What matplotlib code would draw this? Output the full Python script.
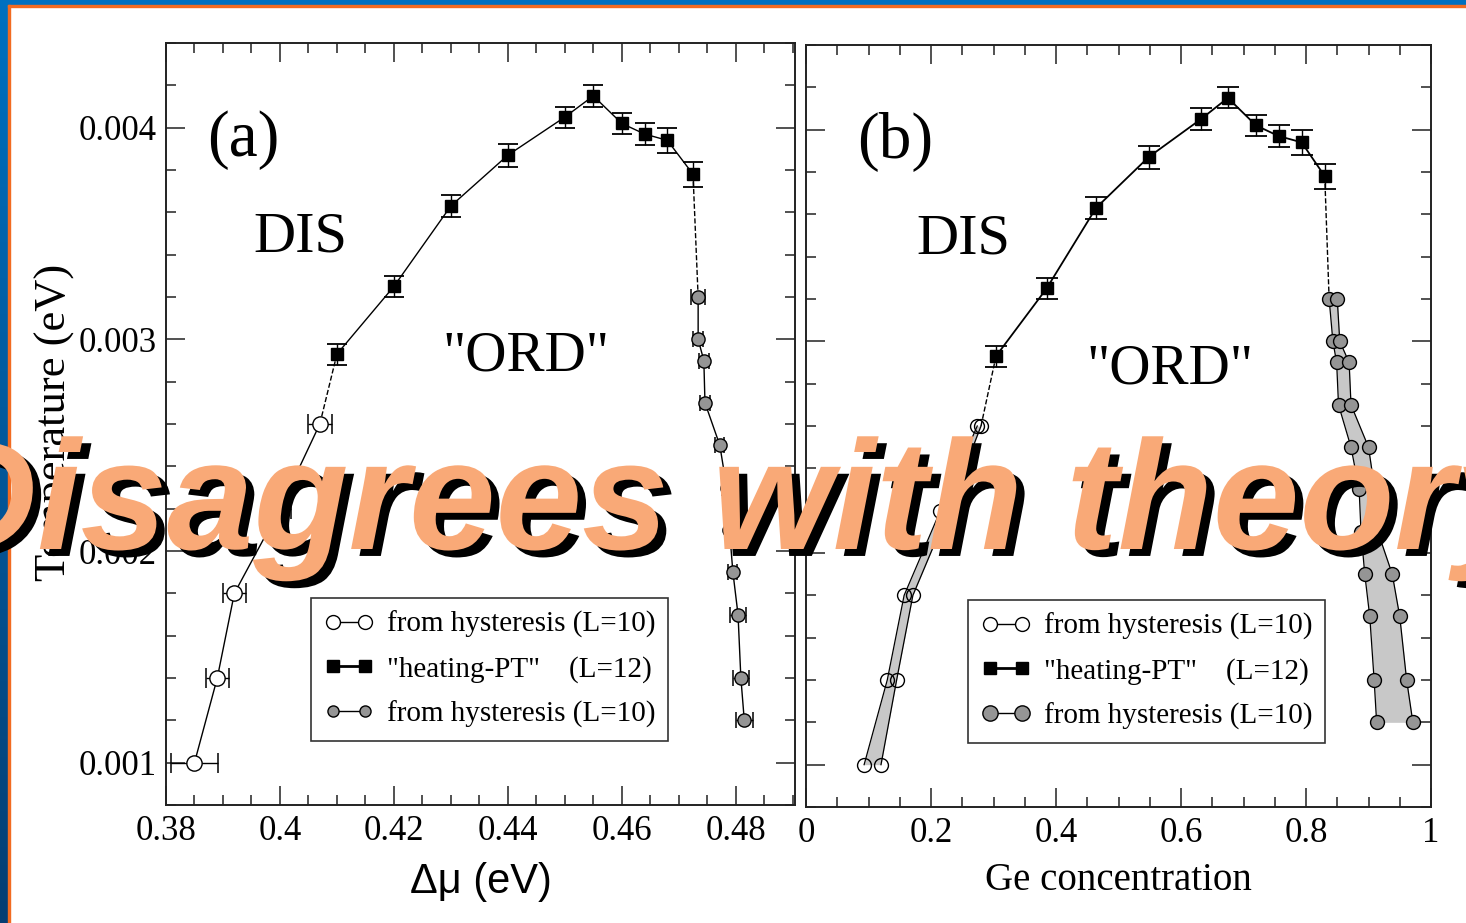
import matplotlib
matplotlib.use('Agg')
import numpy as np
import matplotlib.pyplot as plt
import matplotlib.patheffects as pe
from matplotlib.lines import Line2D
from matplotlib.patches import Rectangle
from matplotlib.ticker import MultipleLocator, FuncFormatter

# ---- panel (a): T vs delta mu ----
# "heating-PT" (L=12)
dmu_pt = [0.41, 0.42, 0.43, 0.44, 0.45, 0.455, 0.46, 0.464, 0.468, 0.4725]
T_pt = [0.00293, 0.00325, 0.00363, 0.00387, 0.00405, 0.00415, 0.00402, 0.00397, 0.00394, 0.00378]
T_pt_err = [0.00005, 0.00005, 0.00005, 0.000055, 0.00005, 0.00005, 0.00005, 0.00005, 0.00006, 0.00006]

# hysteresis, low-Ge branch (L=10)
T_low = [0.0026, 0.0022, 0.0018, 0.0014, 0.0010]
dmu_low = [0.407, 0.400, 0.392, 0.389, 0.385]
dmu_low_err = [0.0021, 0.0019, 0.0020, 0.0020, 0.0041]

# hysteresis, high-Ge branch (L=10)
T_high = [0.0032, 0.0030, 0.0029, 0.0027, 0.0025, 0.0023, 0.0021, 0.0019, 0.0017, 0.0014, 0.0012]
dmu_high = [0.4734, 0.4734, 0.4744, 0.4746, 0.4772, 0.4784, 0.4789, 0.4795, 0.4804, 0.4809, 0.4815]
dmu_high_err = [0.0012, 0.0009, 0.0009, 0.0009, 0.0008, 0.0008, 0.0008, 0.0008, 0.0014, 0.0014, 0.0015]

# ---- panel (b): T vs Ge concentration ----
c_pt = [0.304, 0.385, 0.464, 0.548, 0.632, 0.675, 0.720, 0.756, 0.793, 0.830]
c_low_a = [0.274, 0.215, 0.157, 0.130, 0.093]
c_low_b = [0.280, 0.228, 0.171, 0.145, 0.120]
c_high_a = [0.837, 0.843, 0.849, 0.852, 0.872, 0.885, 0.888, 0.894, 0.902, 0.909, 0.913]
c_high_b = [0.850, 0.854, 0.869, 0.872, 0.900, 0.910, 0.915, 0.938, 0.950, 0.961, 0.971]

labels = ['from hysteresis (L=10)', '"heating-PT"    (L=12)', 'from hysteresis (L=10)']

plt.rcParams['font.family'] = ['Liberation Serif', 'DejaVu Serif']

HATCH = '#959595'
BAND = '#c8c8c8'

fig = plt.figure(figsize=(14.66, 9.23), dpi=100)
fig.patch.set_facecolor('white')
ax1 = fig.add_axes([0.11323, 0.12784, 0.42906, 0.82557])
ax2 = fig.add_axes([0.54980, 0.12568, 0.42633, 0.82557])

fmt = FuncFormatter(lambda v, p: '%g' % v)


def style_axes(ax):
    ax.tick_params(which='both', direction='in', top=True, right=True,
                   labelsize=25, width=1.1, pad=7, color='#222222')
    ax.tick_params(which='major', length=14)
    ax.tick_params(which='minor', length=7)
    for s in ax.spines.values():
        s.set_linewidth(1.4)
        s.set_color('#222222')
    ax.set_ylim(0.0008, 0.0044)
    ax.yaxis.set_major_locator(MultipleLocator(0.001))
    ax.yaxis.set_minor_locator(MultipleLocator(0.0002))
    ax.yaxis.set_major_formatter(fmt)
    ax.xaxis.set_major_formatter(fmt)


def legend_handles(big):
    h1 = Line2D([], [], color='k', lw=1, marker='o', ms=10, mfc='white', mec='k')
    h2 = Line2D([], [], color='k', lw=2, marker='s', ms=8, mfc='k', mec='k')
    h3 = Line2D([], [], color='k', lw=1, marker='o', ms=11 if big else 8, mfc=HATCH, mec='k')
    return [h1, h2, h3]


# panel (a)
style_axes(ax1)
ax1.set_xlim(0.38, 0.4904)
ax1.xaxis.set_major_locator(MultipleLocator(0.02))
ax1.xaxis.set_minor_locator(MultipleLocator(0.005))

ax1.plot([dmu_pt[0], dmu_low[0]], [T_pt[0], T_low[0]], 'k--', lw=1)
ax1.plot([dmu_pt[-1], dmu_high[0]], [T_pt[-1], T_high[0]], 'k--', lw=1)
ax1.errorbar(dmu_pt, T_pt, yerr=T_pt_err, fmt='-s', color='k', lw=1, ms=8,
             mfc='k', mec='k', elinewidth=1, capsize=7, capthick=1.3, zorder=3)
ax1.errorbar(dmu_low, T_low, xerr=dmu_low_err, fmt='-o', color='k', lw=1, ms=11,
             mfc='white', mec='k', elinewidth=1, capsize=7.5, capthick=1.1, zorder=3)
ax1.errorbar(dmu_high, T_high, xerr=dmu_high_err, fmt='-o', color='k', lw=1, ms=9.5,
             mfc=HATCH, mec='k', elinewidth=1, capsize=6, capthick=1.1, zorder=3)

ax1.text(0.3872, 0.00394, '(a)', fontsize=47, ha='left', va='center')
ax1.text(0.3954, 0.00348, 'DIS', fontsize=42, ha='left', va='center')
ax1.text(0.4286, 0.00292, '"ORD"', fontsize=41, ha='left', va='center')

ax1.set_ylabel('Temperature (eV)', fontsize=32, va='center')
ax1.yaxis.set_label_coords(-0.1765, 0.5026)
ax1.set_xlabel('\u0394\u03bc (eV)', fontsize=30, family=['Liberation Sans', 'DejaVu Sans'],
               va='baseline')
ax1.xaxis.set_label_coords(0.5008, -0.1155)

leg_kw = dict(loc='upper left', borderaxespad=0, numpoints=2, fontsize=21,
              handlelength=1.7, handletextpad=0.45, labelspacing=0.6,
              fancybox=False, frameon=True, edgecolor='k', borderpad=0.45)

leg1 = ax1.legend(legend_handles(False), labels, bbox_to_anchor=(0.2305, 0.2717), **leg_kw)
leg1.get_frame().set_linewidth(1.2)

# panel (b)
style_axes(ax2)
ax2.set_xlim(0, 1)
ax2.xaxis.set_major_locator(MultipleLocator(0.2))
ax2.xaxis.set_minor_locator(MultipleLocator(0.05))
ax2.tick_params(labelleft=False)

ax2.fill_betweenx(T_low, c_low_a, c_low_b, color=BAND, lw=0, zorder=1)
ax2.fill_betweenx(T_high, c_high_a, c_high_b, color=BAND, lw=0, zorder=1)
ax2.plot([c_pt[0], c_low_b[0]], [T_pt[0], T_low[0]], 'k--', lw=1)
ax2.plot([c_pt[-1], c_high_a[0]], [T_pt[-1], T_high[0]], 'k--', lw=1)
ax2.errorbar(c_pt, T_pt, yerr=T_pt_err, fmt='-s', color='k', lw=1.3, ms=8,
             mfc='k', mec='k', elinewidth=1, capsize=8, capthick=1.3, zorder=3)
for xs in (c_low_a, c_low_b):
    ax2.plot(xs, T_low, '-o', color='k', lw=0.9, ms=10, mfc='none', mec='k', zorder=3)
for xs in (c_high_a, c_high_b):
    ax2.plot(xs, T_high, '-o', color='k', lw=0.9, ms=10, mfc=HATCH, mec='k', zorder=3)

ax2.text(0.0816, 0.00394, '(b)', fontsize=47, ha='left', va='center')
ax2.text(0.176, 0.00348, 'DIS', fontsize=42, ha='left', va='center')
ax2.text(0.448, 0.002867, '"ORD"', fontsize=41, ha='left', va='center')

ax2.set_xlabel('Ge concentration', fontsize=28, va='baseline')
ax2.xaxis.set_label_coords(0.4992, -0.109)

leg2 = ax2.legend(legend_handles(True), labels, bbox_to_anchor=(0.2592, 0.2717), **leg_kw)
leg2.get_frame().set_linewidth(1.2)

# slide frame: blue bands with thin orange rule
W, H = 1466.0, 923.0
fig.patches.append(Rectangle((0, 1 - 5 / H), 1, 5 / H, transform=fig.transFigure,
                             color='#0070c0', zorder=5))
fig.patches.append(Rectangle((7.5 / W, 1 - 7 / H), 1, 2 / H, transform=fig.transFigure,
                             color='#f26b21', zorder=5))
fig.patches.append(Rectangle((7.5 / W, 0), 2.5 / W, 1 - 5 / H, transform=fig.transFigure,
                             color='#f26b21', zorder=5))
band = fig.add_axes([0, 0, 7.5 / W, 1], zorder=5)
grad = np.linspace(0, 1, 256)[:, None]
top = np.array([0, 112, 192]) / 255.0
bot = np.array([5, 62, 115]) / 255.0
band.imshow(top + grad[..., None] * (bot - top), aspect='auto')
band.axis('off')

fig.text(0.5, 1 - 549 / H, 'Disagrees with theory', fontsize=112,
         family=['Liberation Sans', 'DejaVu Sans'], weight='bold', style='italic',
         color='#f9a977', ha='center', va='baseline', zorder=10,
         path_effects=[pe.SimplePatchShadow(offset=(6, -5), shadow_rgbFace='k', alpha=1.0),
                       pe.Normal()])

fig.savefig('out.png', dpi=100)
